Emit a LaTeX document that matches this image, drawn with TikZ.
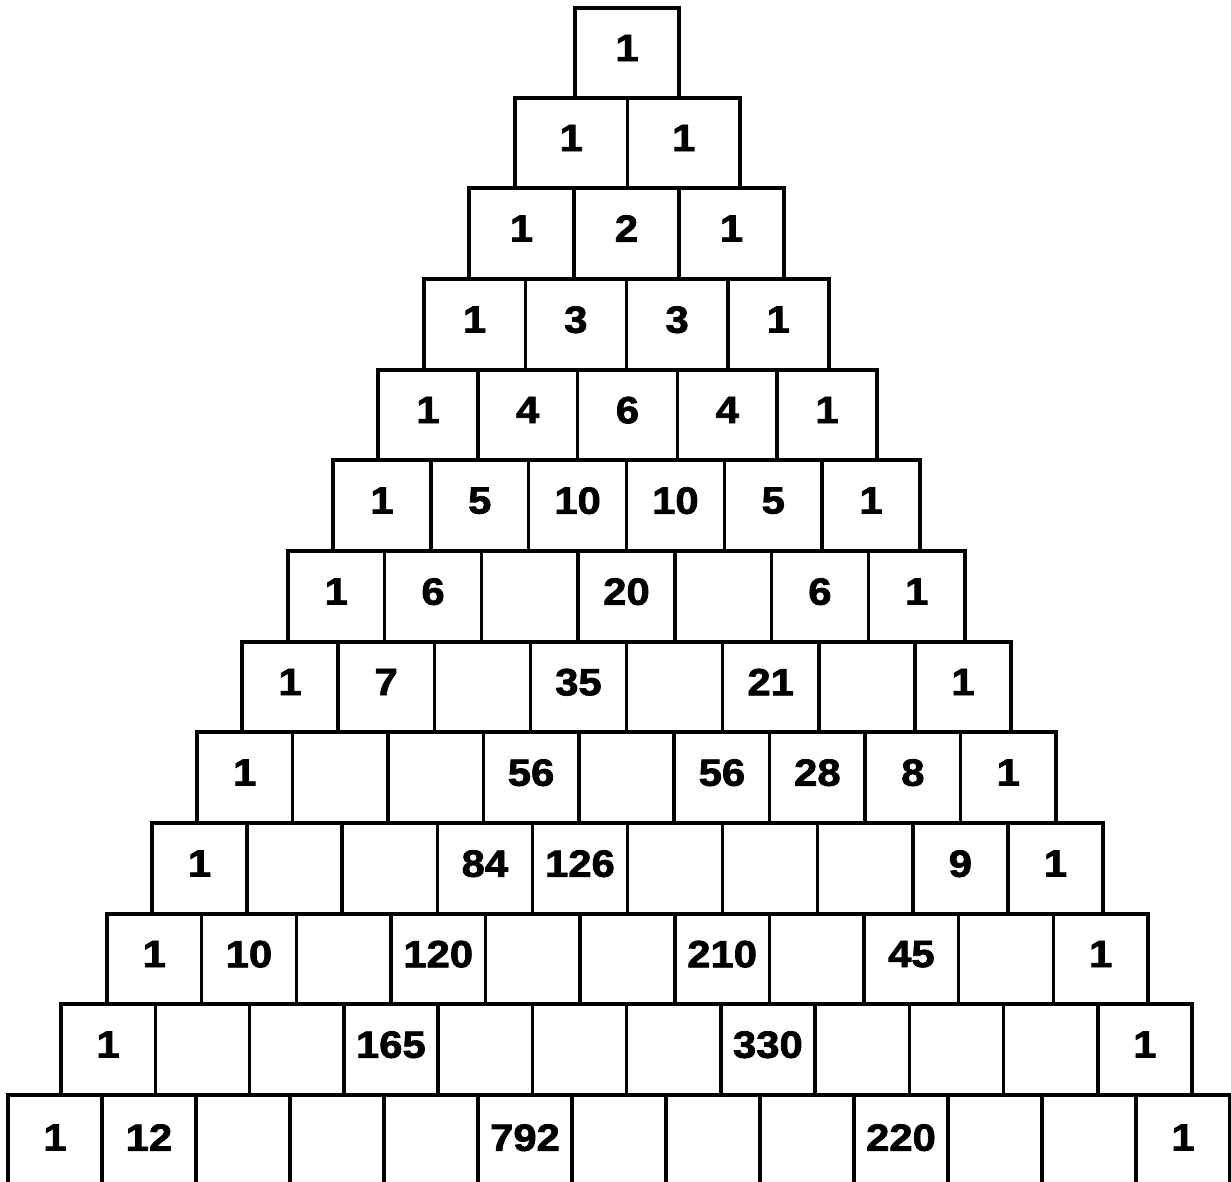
\documentclass[tikz,border=0pt]{standalone}
\usepackage{fontspec}
\newfontfamily\cellfont{Liberation Sans}[FakeStretch=1.1, BoldFeatures={FakeBold=2}]
\tikzset{
  cell/.style={draw, rectangle, line width=3.5pt, inner sep=0pt, outer sep=0pt,
    anchor=north west, text depth=10pt,
    font=\cellfont\bfseries\fontsize{38}{38}\selectfont},
}
\begin{document}
\begin{tikzpicture}[x=1pt,y=-1pt]
\useasboundingbox (0,0) rectangle (1231,1182);
% rows of the triangle: row/top/bottom/left/right/entries
\foreach \r/\ya/\yb/\xl/\xr/\vals in {
  0/8/98/575/679/{1},
  1/98/188/515/740/{1,1},
  2/188/279/469/784/{1,2,1},
  3/279/370/424/829/{1,3,3,1},
  4/370/460/378/877/{1,4,6,4,1},
  5/460/551/333/920/{1,5,10,10,5,1},
  6/551/642/288/965/{1,6,{},20,{},6,1},
  7/642/732/242/1011/{1,7,{},35,{},21,{},1},
  8/732/823/197/1056/{1,{},{},56,{},56,28,8,1},
  9/823/914/152/1103/{1,{},{},84,126,{},{},{},9,1},
  10/914/1004/107/1148/{1,10,{},120,{},{},210,{},45,{},1},
  11/1004/1095/61/1192/{1,{},{},165,{},{},{},330,{},{},{},1},
  12/1095/1190/8/1230/{1,12,{},{},{},792,{},{},{},220,{},{},1}}
{
  \pgfmathsetmacro{\w}{(\xr-\xl)/(\r+1)}
  \pgfmathsetmacro{\h}{\yb-\ya}
  \foreach \v [count=\i from 0] in \vals {
    \pgfmathsetmacro{\x}{\xl+\i*\w}
    \node[cell, minimum width=\w pt, minimum height=\h pt] (cell-\r-\i) at (\x,\ya) {\v};
  }
}
\end{tikzpicture}
\end{document}
